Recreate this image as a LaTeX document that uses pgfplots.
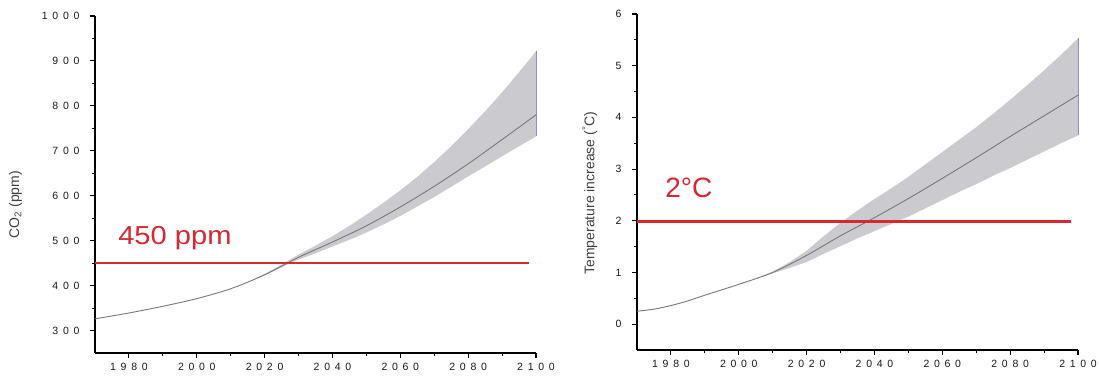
\documentclass[border=0pt]{standalone}
\usepackage{fontspec}
\setmainfont{Liberation Sans}
\newfontfamily\tickfont[LetterSpace=45]{Liberation Sans}
\usepackage{pgfplots}
\pgfplotsset{compat=1.18}
\definecolor{myband}{RGB}{203,203,207}
\definecolor{mymid}{RGB}{120,120,125}
\definecolor{myred}{RGB}{214,40,48}
\definecolor{myedge}{RGB}{140,140,200}
\pgfplotsset{
  mystyle/.style={
    scale only axis,
    axis lines=left,
    axis line style={-, line width=1.3pt},
    tick align=outside,
    major tick length=5pt,
    minor tick length=3pt,
    every tick/.style={black, line width=1.1pt},
    xmin=1970, xmax=2100,
    xtick={1980,2000,...,2100},
    minor x tick num=1,
    minor y tick num=1,
    /pgf/number format/assume math mode=true,
    /pgf/number format/1000 sep={},
    tick label style={font=\tickfont\fontsize{10.5}{12}\selectfont, text=black!90},
    yticklabel style={xshift=-7pt},
    xticklabel style={yshift=-2pt},
    clip=false,
  }
}
\begin{document}
\begin{tikzpicture}
\useasboundingbox (0,0) rectangle (1099pt,379pt);
% ---------- CO2 ----------
\begin{axis}[mystyle,
  at={(95pt,26pt)}, anchor=south west,
  width=441pt, height=337pt,
  ymin=250, ymax=1000,
  ytick={300,400,...,1000},
  ylabel={CO\textsubscript{2} (ppm)},
  every axis y label/.style={at={(axis description cs:-0.18,0.44)}, rotate=90, anchor=center, font=\fontsize{14}{16}\selectfont, text=black!75},
]
\addplot[fill=myband, draw=none] coordinates {
 (2015,407) (2020,426) (2025,447) (2030,469) (2035,489) (2040,510) (2045,533) (2050,558) (2055,584) (2060,612) (2065,642) (2070,675) (2075,710) (2080,748) (2085,788) (2090,830) (2095,875) (2100,921)
 (2100,732) (2095,710) (2090,688) (2085,665) (2080,643) (2075,620) (2070,597) (2065,576) (2060,555) (2055,536) (2050,518) (2045,502) (2040,487) (2035,472) (2030,458) (2025,441) (2020,423) (2015,407)} -- cycle;
\addplot[myedge, line width=0.6pt] coordinates {(2100,732) (2100,921)};
\addplot[mymid, line width=0.9pt, smooth] coordinates {
 (1970,326) (1980,339) (1990,354) (2000,371) (2010,393) (2020,424) (2030,463) (2040,497) (2050,533) (2060,575) (2070,621) (2080,671) (2090,725) (2100,780)};
\addplot[myred, line width=2.6pt] coordinates {(1970,450) (2098,450)};
\node[anchor=base west, text=myred, inner sep=0pt] at (axis cs:1976.8,491)
  {\scalebox{1.12}[1]{\fontsize{26}{30}\selectfont 450 ppm}};
\end{axis}
% ---------- Temperature ----------
\begin{axis}[mystyle,
  at={(637pt,29pt)}, anchor=south west,
  width=441pt, height=336pt,
  ymin=-0.5, ymax=6,
  ytick={0,1,...,6},
  ylabel={Temperature increase (\textsuperscript{°}C)},
  every axis y label/.style={at={(axis description cs:-0.107,0.467)}, rotate=90, anchor=center, font=\fontsize{14}{16}\selectfont, text=black!75},
]
\addplot[fill=myband, draw=none] coordinates {
 (2005,0.88) (2010,1.02) (2015,1.2) (2020,1.42) (2025,1.7) (2030,1.96) (2035,2.2) (2040,2.42) (2045,2.63) (2050,2.85) (2055,3.09) (2060,3.33) (2065,3.57) (2070,3.81) (2075,4.07) (2080,4.34) (2085,4.62) (2090,4.91) (2095,5.21) (2100,5.53)
 (2100,3.65) (2095,3.5) (2090,3.34) (2085,3.18) (2080,3.02) (2075,2.87) (2070,2.71) (2065,2.56) (2060,2.4) (2055,2.24) (2050,2.08) (2045,1.94) (2040,1.8) (2035,1.66) (2030,1.51) (2025,1.36) (2020,1.2) (2015,1.09) (2010,0.98) (2005,0.88)} -- cycle;
\addplot[myedge, line width=0.6pt] coordinates {(2100,3.65) (2100,5.53)};
\addplot[mymid, line width=0.9pt, smooth] coordinates {
 (1970,0.25) (1975,0.29) (1980,0.36) (1985,0.45) (1990,0.56) (2000,0.77) (2010,1.0) (2020,1.33) (2030,1.71) (2040,2.06) (2050,2.43) (2060,2.82) (2070,3.22) (2080,3.63) (2090,4.03) (2100,4.43)};
\addplot[myred, line width=2.6pt] coordinates {(1970,1.98) (2098,1.98)};
\node[anchor=base west, text=myred, inner sep=0pt] at (axis cs:1978.3,2.447)
  {\fontsize{28}{32}\selectfont 2°C};
\end{axis}
\end{tikzpicture}
\end{document}
